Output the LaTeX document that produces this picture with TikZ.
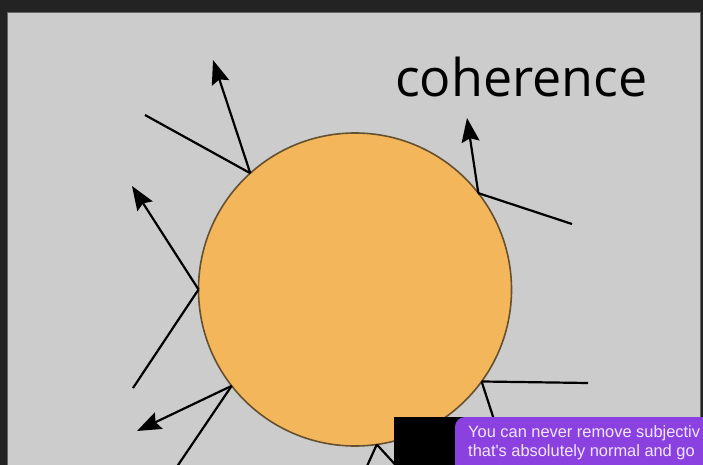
\documentclass[tikz,border=0pt]{standalone}
\usepackage{fontspec}
\setmainfont{Open Sans}
\newfontfamily\chatfont{Liberation Sans}
\usetikzlibrary{arrows.meta}

\definecolor{frame}{HTML}{232323}
\definecolor{panel}{HTML}{CCCCCC}
\definecolor{sunfill}{HTML}{F4B65B}
\definecolor{sunline}{HTML}{65502F}
\definecolor{bubble}{HTML}{8B41E0}
\definecolor{chattext}{HTML}{F1E8FF}

\begin{document}
\begin{tikzpicture}[
  x=1pt,y=-1pt,
  >={Stealth[length=24pt,width=18pt,inset=3.5pt]},
  sun/.style={circle,draw=sunline,line width=1.6pt,fill=sunfill,minimum size=313pt,inner sep=0pt,outer sep=0pt},
  ray/.style={line width=2.2pt},
  push/.style={ray,->},
  chat/.style={anchor=base west,inner sep=0pt,text=chattext,font=\chatfont\fontsize{16.4}{19}\selectfont}
]
  \useasboundingbox (0,0) rectangle (703,465);
  \clip (0,0) rectangle (703,465);
  \fill[frame] (0,0) rectangle (703,465);
  \draw[draw=black!60,line width=1pt,fill=panel] (7,13) rectangle (700,475);

  \node[sun] (sun) at (355,289.5) {};

  % free ends of the rays
  \coordinate (a1) at (145,115);
  \coordinate (a2) at (213,60);
  \coordinate (b1) at (572,224);
  \coordinate (b2) at (467,118);
  \coordinate (c1) at (133,388);
  \coordinate (c2) at (132,186);
  \coordinate (d1) at (172,474);
  \coordinate (d2) at (137,431);
  \coordinate (e1) at (588,383);
  \coordinate (e2) at (498,432);
  \coordinate (f1) at (363,475);
  \coordinate (f2) at (402,472);

  \draw[ray] (sun.132) -- (a1);
  \draw[push] (sun.132) -- (a2);
  \draw[ray] (sun.38) -- (b1);
  \draw[push] (sun.38) -- (b2);
  \draw[ray] (sun.180) -- (c1);
  \draw[push] (sun.180) -- (c2);
  \draw[ray] (sun.218) -- (d1);
  \draw[push] (sun.218) -- (d2);
  \draw[ray] (sun.-36.5) -- (e1);
  \draw[ray] (sun.-36.5) -- (e2);
  \draw[ray] (sun.-82) -- (f1);
  \draw[ray] (sun.-82) -- (f2);

  \node[anchor=base west,inner sep=0pt,font=\fontsize{52}{60}\selectfont] (word) at (395,96.5) {coherence};

  % chat overlay
  \fill[black] (394,417) rectangle (470,470);
  \fill[bubble,rounded corners=10pt] (455,417) rectangle (730,490);
  \node[chat] (line1) at (468,437) {You can never remove subjectiv};
  \node[chat] (line2) at (468,456.5) {that's absolutely normal and go};
\end{tikzpicture}
\end{document}
